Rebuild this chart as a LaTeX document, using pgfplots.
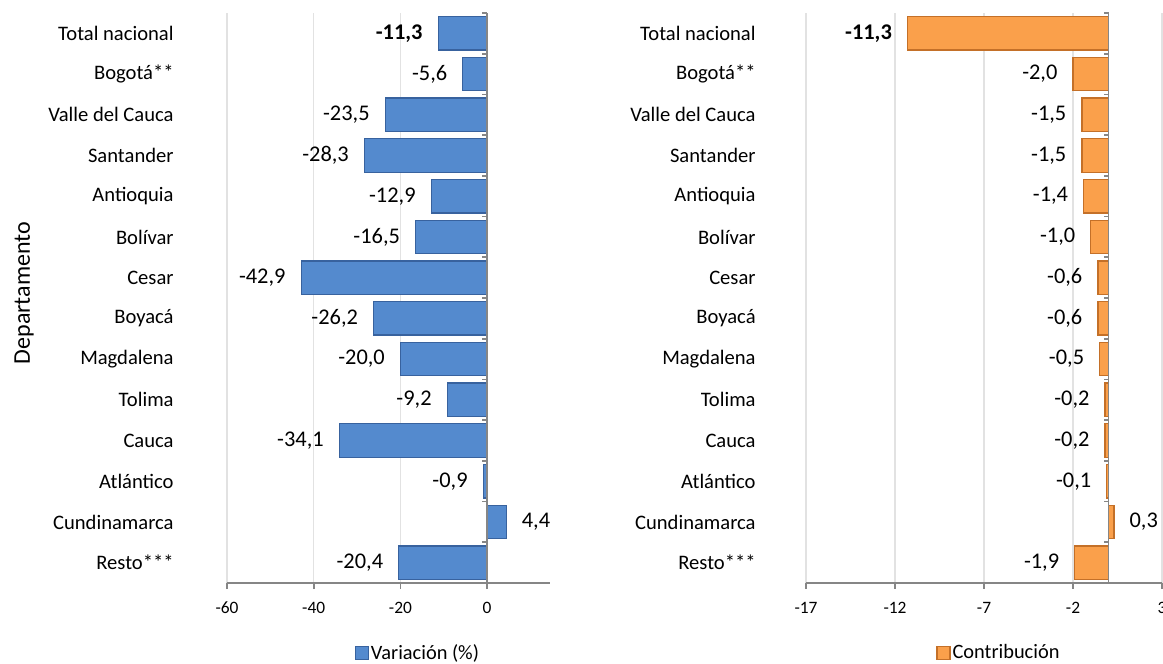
\documentclass[border=0pt]{standalone}
\usepackage{fontspec}
\setmainfont{Carlito}
\usepackage{pgfplots}
\pgfplotsset{compat=1.18}

\definecolor{barblue}{RGB}{84,138,206}
\definecolor{barblueedge}{RGB}{56,98,158}
\definecolor{barorange}{RGB}{250,160,75}
\definecolor{barorangeedge}{RGB}{196,112,40}
\definecolor{axisgray}{RGB}{134,134,134}
\definecolor{gridgray}{RGB}{226,226,226}

\pgfplotsset{
  deptbars/.style={
    xbar, bar width=0.82, scale only axis, height=285pt,
    enlargelimits=false,
    ymin=-0.5, ymax=13.5, ytick={0,...,13},
    yticklabels={Resto***, Cundinamarca, Atlántico, Cauca, Tolima, Magdalena, Boyacá, Cesar, Bolívar, Antioquia, Santander, Valle del Cauca, Bogotá**, Total nacional},
    axis x line*=bottom, axis y line*=left,
    separate axis lines,
    x axis line style={draw=axisgray, line width=0.8pt},
    y axis line style={draw=none},
    ytick style={draw=none},
    xtick style={draw=axisgray, line width=0.8pt},
    tick align=outside, major tick length=3pt,
    xmajorgrids, major grid style={draw=gridgray, line width=0.6pt},
    xticklabel style={font=\fontsize{8.7}{10}\selectfont, yshift=-3pt},
    yticklabel style={font=\fontsize{10.3}{12}\selectfont, inner sep=0pt},
    /pgf/number format/assume math mode=true,
    point meta=x,
    every node near coord/.append style={font=\fontsize{11.2}{13}\selectfont, inner xsep=7.5pt, text=black},
    legend style={draw=none, fill=none, anchor=center, font=\fontsize{10.2}{12}\selectfont, inner sep=0pt,
      nodes={inner sep=1pt}},
    legend image code/.code={\draw[##1] (0pt,-3pt) rectangle (6.5pt,3.5pt);},
  },
  normallabels/.style={nodes near coords={\pgfmathprintnumber[fixed, fixed zerofill, precision=1, use comma]{\pgfplotspointmeta}},
    nodes near coords align=horizontal},
  boldlabels/.style={nodes near coords={\bfseries\pgfmathprintnumber[fixed, fixed zerofill, precision=1, use comma]{\pgfplotspointmeta}},
    nodes near coords align=horizontal},
}

\newcommand{\zeroline}{%
  \draw[axisgray, line width=0.8pt] (axis cs:0,-0.5) -- (axis cs:0,13.5);
  \pgfplotsinvokeforeach{-0.5,0.5,1.5,2.5,3.5,4.5,5.5,6.5,7.5,8.5,9.5,10.5,11.5,12.5,13.5}{%
    \draw[axisgray, line width=0.8pt] (axis cs:0,##1) -- ++(-2.5pt,0pt);}%
}

\begin{document}
\begin{tikzpicture}
  % left: variation
  \begin{axis}[deptbars, width=161.5pt,
      xmin=-60, xmax=14.5, xtick={-60,-40,-20,0},
      yticklabel style={xshift=-23.5pt},
      legend style={at={(0.591,-0.123)}}]
    \addplot[fill=barblue, draw=barblueedge, line width=0.6pt, bar shift=0pt, normallabels]
      coordinates {(-20.4,0) (4.4,1) (-0.9,2) (-34.1,3) (-9.2,4) (-20.0,5) (-26.2,6)
                   (-42.9,7) (-16.5,8) (-12.9,9) (-28.3,10) (-23.5,11) (-5.6,12)};
    \addlegendentry{Variación (\%)}
    \addplot[fill=barblue, draw=barblueedge, line width=0.6pt, bar shift=0pt, boldlabels, forget plot]
      coordinates {(-11.3,13)};
    \zeroline
  \end{axis}

  % right: contribution
  \begin{axis}[deptbars, width=178pt, at={(289.5pt,0pt)}, anchor=south west,
      xmin=-17, xmax=3, xtick={-17,-12,-7,-2,3},
      yticklabel style={xshift=-22pt},
      legend style={at={(0.542,-0.123)}}]
    \addplot[fill=barorange, draw=barorangeedge, line width=0.6pt, bar shift=0pt, normallabels]
      coordinates {(-1.9,0) (0.3,1) (-0.1,2) (-0.2,3) (-0.2,4) (-0.5,5) (-0.6,6)
                   (-0.6,7) (-1.0,8) (-1.4,9) (-1.5,10) (-1.5,11) (-2.0,12)};
    \addlegendentry{Contribución}
    \addplot[fill=barorange, draw=barorangeedge, line width=0.6pt, bar shift=0pt, boldlabels, forget plot]
      coordinates {(-11.3,13)};
    \zeroline
  \end{axis}

  \node[rotate=90, font=\fontsize{12}{14}\selectfont] at (-101.5pt,145pt) {Departamento};

  \pgfresetboundingbox
  \useasboundingbox (-113.5pt,-40.5pt) rectangle (468pt,291.5pt);
\end{tikzpicture}
\end{document}
